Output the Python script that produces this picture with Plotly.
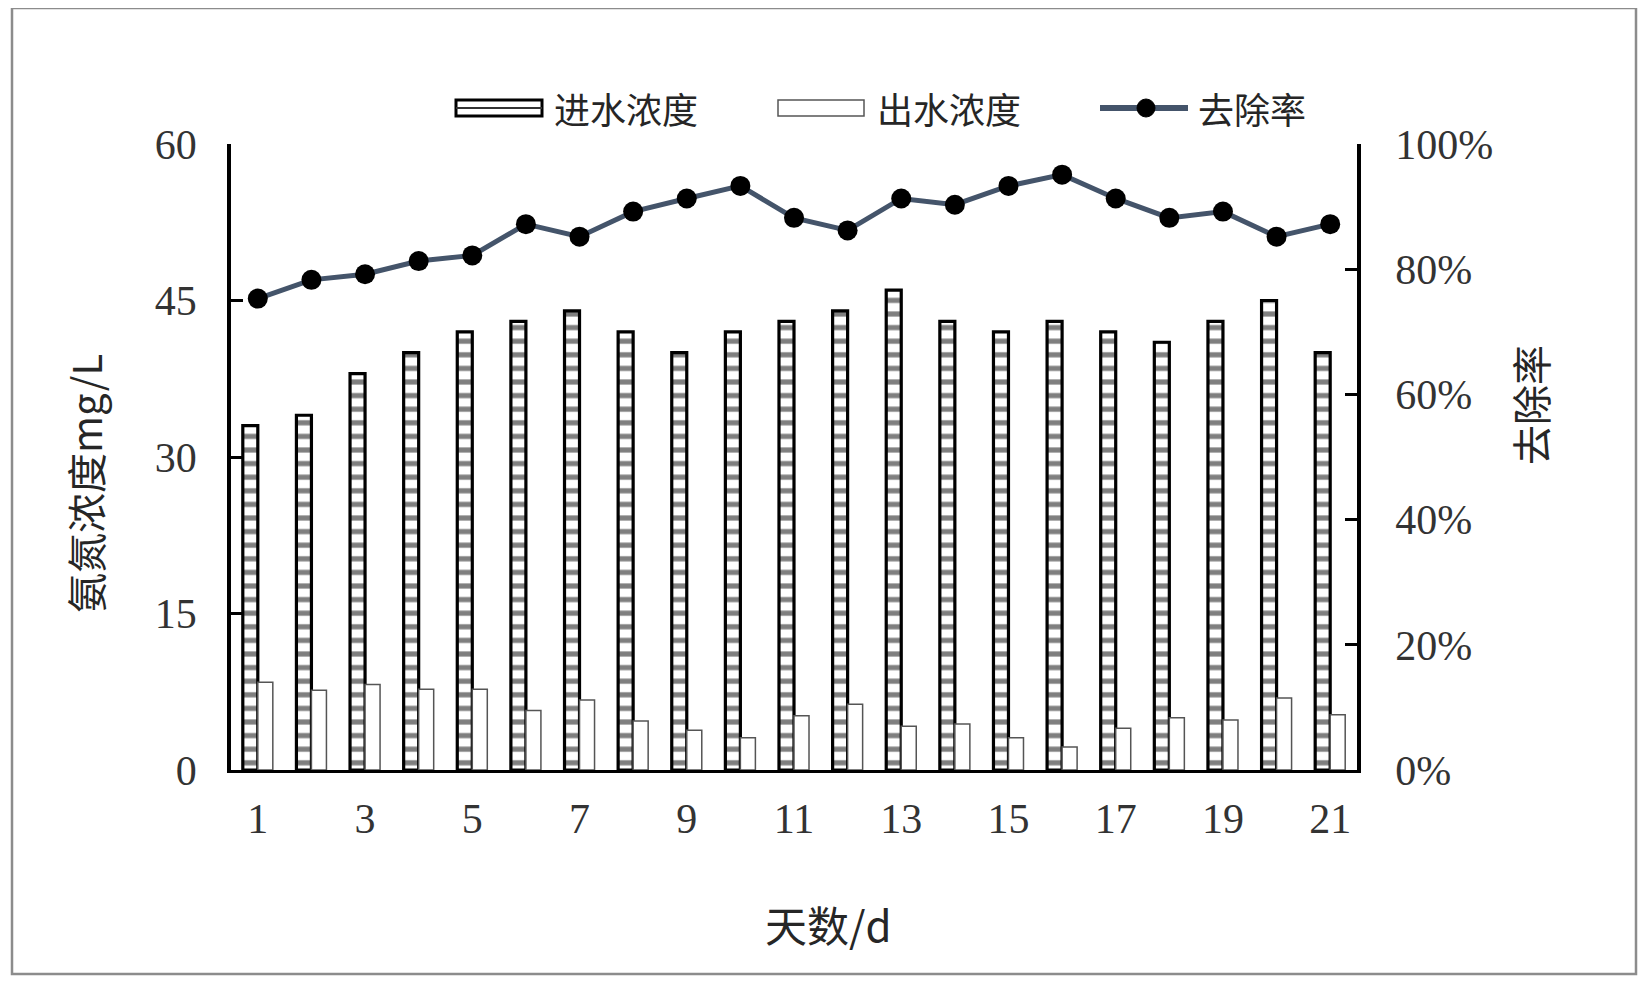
import plotly.graph_objects as go

days = list(range(1, 22))
influent = [33, 34, 38, 40, 42, 43, 44, 42, 40, 42, 43, 44, 46, 43, 42, 43, 42, 41, 43, 45, 40]
effluent = [8.4, 7.65, 8.2, 7.75, 7.75, 5.7, 6.7, 4.7, 3.8, 3.1, 5.2, 6.3, 4.2, 4.4, 3.1, 2.2, 4.0, 5.0, 4.8, 6.9, 5.3]
removal = [0.753, 0.783, 0.792, 0.813, 0.822, 0.872, 0.852, 0.892, 0.913, 0.933, 0.882, 0.862,
           0.913, 0.903, 0.933, 0.951, 0.913, 0.882, 0.892, 0.852, 0.872]
x_ticks = list(range(1, 22, 2))
y_ticks = [0, 15, 30, 45, 60]
y2_ticks = [0, 0.2, 0.4, 0.6, 0.8, 1.0]

names = ["进水浓度", "出水浓度", "去除率"]

OFF = 8  # default page body margin
W, H = 1649 - OFF, 982 - OFF
# plot area in page coordinates
L, R, T, B = 231, 1357, 144, 770
PW, PH = R - L, B - T


def px(x):
    return (x - L) / PW


def py(y):
    return (B - y) / PH


SERIF = "Liberation Serif, Noto Sans CJK SC, serif"
CJK = "Noto Sans CJK SC, sans-serif"

fig = go.Figure()
fig.add_trace(go.Bar(
    x=days, y=influent, name=names[0], yaxis="y",
    marker=dict(color="white", line=dict(color="black", width=3.2),
                pattern=dict(shape="-", fgcolor="black", bgcolor="white", size=13.6, solidity=0.38)),
    showlegend=False,
))
fig.add_trace(go.Bar(
    x=days, y=effluent, name=names[1], yaxis="y",
    marker=dict(color="white", line=dict(color="#555555", width=1.5)),
    showlegend=False,
))
fig.add_trace(go.Scatter(
    x=days, y=removal, name=names[2], yaxis="y2", mode="lines+markers",
    line=dict(color="#44546A", width=5),
    marker=dict(color="black", size=20),
    showlegend=False,
))

axis_common = dict(showline=True, linecolor="black", linewidth=3.5, showgrid=False, zeroline=False,
                   ticks="inside", ticklen=12, tickwidth=3, tickcolor="black",
                   tickfont=dict(family=SERIF, size=42, color="#333333"))

fig.update_layout(
    width=W, height=H,
    margin=dict(l=L - OFF, r=W - (R - OFF), t=T - OFF, b=H - (B - OFF)),
    paper_bgcolor="white", plot_bgcolor="white",
    barmode="group", bargap=0.44, bargroupgap=0,
    xaxis=dict(range=[0.5, 21.5], tickvals=x_ticks, ticktext=[str(v) for v in x_ticks],
               showline=True, linecolor="black", linewidth=3, showgrid=False, zeroline=False,
               ticks="", tickfont=dict(family=SERIF, size=42, color="#333333"),
               ticklabelstandoff=10),
    yaxis=dict(range=[0, 60], tickvals=y_ticks, ticklabelstandoff=22, **axis_common),
    yaxis2=dict(range=[0, 1], tickvals=y2_ticks, tickformat=".0%", overlaying="y", side="right",
                ticklabelstandoff=26, **axis_common),
    showlegend=False,
)

# frame around the whole chart
fig.add_shape(type="rect", xref="paper", yref="paper",
              x0=px(12), x1=px(1636), y0=py(974), y1=py(8),
              line=dict(color="#8c8c8c", width=2.5), fillcolor="rgba(0,0,0,0)", layer="below")

# axis titles
fig.add_annotation(xref="paper", yref="paper", x=px(828), y=py(923), text="天数/d", showarrow=False,
                   font=dict(family=CJK, size=42, color="#262626"), xanchor="center", yanchor="middle")
fig.add_annotation(xref="paper", yref="paper", x=px(85), y=py(484), text="氨氮浓度mg/L", showarrow=False,
                   textangle=-90, font=dict(family=CJK, size=40, color="#262626"),
                   xanchor="center", yanchor="middle")
fig.add_annotation(xref="paper", yref="paper", x=px(1530), y=py(405), text="去除率", showarrow=False,
                   textangle=-90, font=dict(family=CJK, size=40, color="#262626"),
                   xanchor="center", yanchor="middle")

# custom legend
ly = 108
fig.add_shape(type="rect", xref="paper", yref="paper", x0=px(456), x1=px(542), y0=py(116), y1=py(100),
              line=dict(color="black", width=3), fillcolor="white")
fig.add_shape(type="line", xref="paper", yref="paper", x0=px(456), x1=px(542), y0=py(ly), y1=py(ly),
              line=dict(color="#333333", width=2))
fig.add_shape(type="rect", xref="paper", yref="paper", x0=px(778), x1=px(864), y0=py(116), y1=py(100),
              line=dict(color="#555555", width=1.5), fillcolor="white")
fig.add_shape(type="line", xref="paper", yref="paper", x0=px(1100), x1=px(1188), y0=py(ly), y1=py(ly),
              line=dict(color="#44546A", width=6))
fig.add_shape(type="circle", xref="paper", yref="paper", x0=px(1137), x1=px(1155), y0=py(ly + 9), y1=py(ly - 9),
              line=dict(color="black", width=1), fillcolor="black")
for tx, label in zip([552, 875, 1196], names):
    fig.add_annotation(xref="paper", yref="paper", x=px(tx), y=py(ly), text=label, showarrow=False,
                       font=dict(family=CJK, size=36, color="#262626"), xanchor="left", yanchor="middle")

fig.write_html("out.html")
